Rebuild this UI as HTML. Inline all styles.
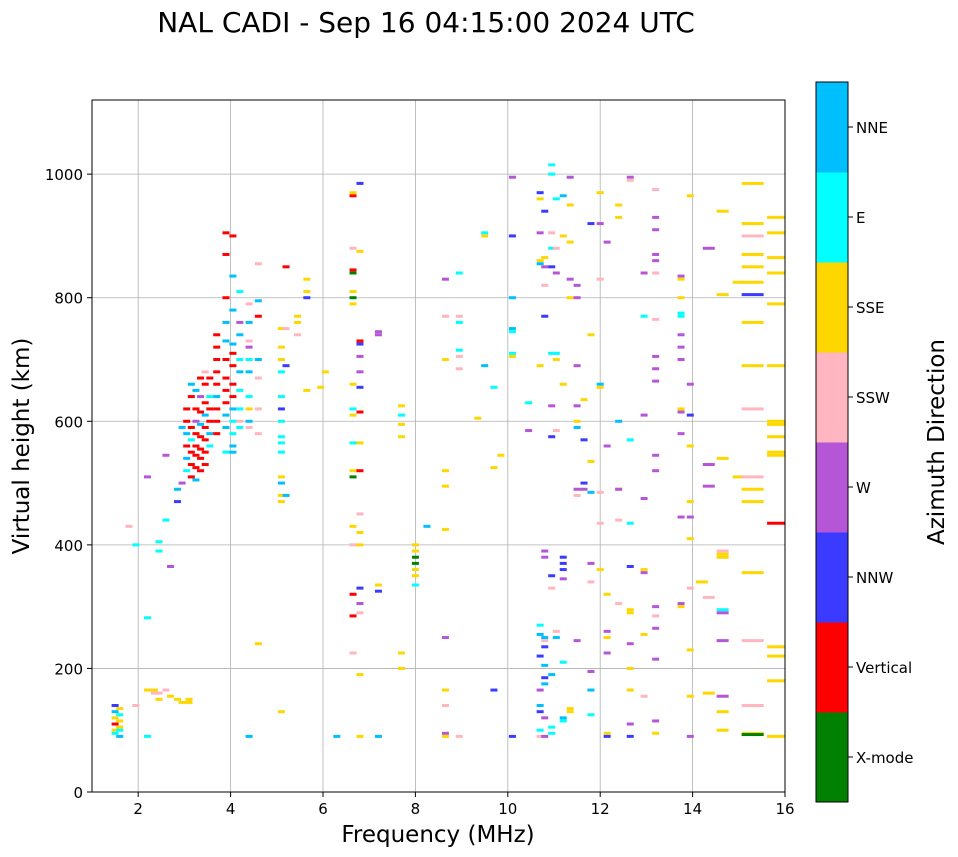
<!DOCTYPE html>
<html><head><meta charset="utf-8"><style>
html,body{margin:0;padding:0;background:#fff;}
svg{display:block;font-family:"DejaVu Sans","Liberation Sans",sans-serif;}
</style></head><body>
<svg id="chart" width="958" height="857" viewBox="0 0 958 857">
<text x="426" y="32" font-size="28" text-anchor="middle">NAL CADI - Sep 16 04:15:00 2024 UTC</text>
<defs><clipPath id="pc"><rect x="92" y="100" width="693" height="692"/></clipPath></defs>
<g id="grid"></g>
<g id="marks" clip-path="url(#pc)"></g>
<rect x="92" y="100" width="693" height="692" fill="none" stroke="#000" stroke-width="1"/>
<g id="axes"></g>
<text x="438" y="842" font-size="23" text-anchor="middle">Frequency (MHz)</text>
<text transform="translate(29,446) rotate(-90)" font-size="23" text-anchor="middle">Virtual height (km)</text>
<g id="cbar"></g>
<text transform="translate(944,442) rotate(-90)" font-size="23" text-anchor="middle">Azimuth Direction</text>
</svg>
<script>
const dirNames = ["X-mode","Vertical","NNW","W","SSW","SSE","E","NNE"];
const dirColors = ["#008000","#ff0000","#3b3bff","#b556d6","#ffb6c1","#ffd700","#00ffff","#00bfff"];
const dirCodes = "XVNWPSEB";
const xTicks = [2,4,6,8,10,12,14,16];
const yTicks = [0,200,400,600,800,1000];
const obs = [
[1.5,"100S 110V 120S 130B 140N 95E"],[1.6,"90B 105S 115S 125E 135S 100E"],[1.8,"430P"],[1.95,"400E 140P"],
[2.2,"165S 282E 510W 90E"],[2.35,"160P 165S"],[2.45,"150S 160P 390E 405E"],[2.6,"165P 440E 545W"],
[2.7,"155S 365W"],[2.85,"150S 470N 490B"],[2.95,"145S 590B 500W"],[3.1,"145S 150S"],
[3.05,"520E 540B 560V 580B 600V 620V"],[3.15,"510V 530V 550V 570E 590V 640V 660B"],
[3.25,"505B 525V 545V 560V 580V 600W 620V 650B"],[3.35,"520V 540V 555V 575V 595B 615V 640W 670V"],
[3.45,"530V 550V 570V 590V 610B 630V 660V 680P"],[3.55,"560E 580B 600V 620V 640E 670V"],
[3.7,"600V 620V 640B 660V 680V 700V 720V 740V 580V"],
[3.9,"590B 610B 630V 650V 670V 700V 730B 760B 800V 870V 905V 550E"],
[4.05,"600E 620B 640V 660V 690V 710V 725B 780B 835B 900V 550B 560B 580E"],
[4.2,"590E 620E 650E 680B 700E 740B 760W 810E 600P"],
[4.4,"600B 620S 640E 680B 700E 720W 730P 760B 790P 590P 90B"],
[4.6,"580P 620P 670P 700B 770V 795B 855P 240S"],
[5.1,"470S 480S 500B 550E 565E 575E 600E 620N 640E 680E 700S 720S 750S 130S 510S"],
[5.2,"690N 750P 850V 480B"],[5.45,"760S 770S 740P"],[5.65,"800N 830S 810S 650S"],[5.95,"655S"],[6.05,"680S"],[6.3,"90B"],
[6.65,"965V 970S 880P 840X 845V 800X 810S 790S 660S 620E 610S 565E 520S 510X 430S 400P 320V 285V 225P"],
[6.8,"985N 875S 725N 730V 705W 680W 655N 615V 565S 520V 450P 420S 400S 330N 305W 290P 190S 90S"],
[7.2,"745W 740W 335S 325N 90B"],[7.7,"625S 610E 595S 575S 225S 200S"],
[8.0,"400S 390S 380X 370X 360S 350S 335E"],[8.25,"430B"],
[8.65,"830W 770P 700S 520S 495S 425S 250W 165S 140P 95W 90S"],
[8.95,"840E 770P 760E 715E 705P 685P 90P"],[9.35,"605S"],[9.5,"905E 900S 690B"],[9.7,"655E 525S 165N"],[9.85,"545S"],
[10.1,"995W 900N 800B 750B 745E 710E 705S 90N"],[10.45,"630E 585W"],
[10.7,"970N 960S 905W 860S 855B 690S 270E 255B 220N 140B 130N 165W 100E 90P"],
[10.8,"940N 865S 850W 820P 770N 390W 380W 250B 245P 235N 205B 185N 175B 90W 120W"],
[10.95,"1015E 1000E 905P 880E 850N 710E 625W 575N 350N 330P 190B 105E 95E"],
[11.05,"960E 880P 710E 700S 840W 585P 260P 250B"],
[11.2,"965B 900S 660S 380N 370N 360N 345W 210E 120B 115E"],
[11.35,"995W 950S 890S 830W 800S 135S 130S"],
[11.5,"820W 800W 690W 625W 600S 590B 480P 490W 245W"],[11.65,"635S 570N 500N 490W"],
[11.8,"920N 740S 535S 485B 370W 340P 195W 165B 125E"],
[12.0,"970S 920W 830P 660B 655S 485P 360S 435P"],
[12.15,"890W 560W 320S 260W 250S 225W 95S 90N"],
[12.4,"950S 930S 600B 490S 490W 440P 305P"],
[12.65,"995W 990P 570E 435E 365N 295S 290S 240W 200S 165S 110W 90N"],
[12.95,"840W 770E 610W 475W 360S 355W 255S 155P"],
[13.2,"975P 930W 910W 870W 860W 840P 765P 705W 685W 665W 545W 520W 300W 285P 265W 215W 115W 95S"],
[13.75,"835W 830S 800S 775E 770E 740W 720W 700W 620S 615W 580W 445W 300S 305W"],
[13.95,"965S 660W 610N 560S 470S 445W 410S 230S 155S 90W 330P"],[14.2,"340S"],
[14.35,"880W 530W 495W 315P 160S"],
[14.65,"940S 805S 540S 390P 385S 380S 295E 290W 245W 155W 130S 100S"],[15.0,"825S 510S"],
[15.3,"985S 920S 900P 870S 850S 825S 805N 760S 690S 620P 510P 490S 470S 355S 245P 140P 95S 93X"],
[15.85,"930S 905S 865S 840S 790S 690S 600S 595S 575S 550S 545S 435V 235S 220S 180S 90S"]
];
const freqs=[], heights=[], dirs=[];
obs.forEach(c=>c[1].split(" ").forEach(t=>{freqs.push(c[0]);heights.push(parseFloat(t));dirs.push(dirCodes.indexOf(t.slice(-1)));}));

const NS="http://www.w3.org/2000/svg";
const X0=92,X1=785,Y0=792,Y1=100,FMIN=1,FMAX=16,HMIN=0,HMAX=1120;
const xs=f=>X0+(f-FMIN)/(FMAX-FMIN)*(X1-X0);
const ys=h=>Y0-(h-HMIN)/(HMAX-HMIN)*(Y0-Y1);
function mk(tag,attrs,parent){const e=document.createElementNS(NS,tag);for(const k in attrs)e.setAttribute(k,attrs[k]);parent.appendChild(e);return e;}
const grid=document.getElementById("grid"),axes=document.getElementById("axes"),marks=document.getElementById("marks"),cbar=document.getElementById("cbar");
xTicks.forEach(t=>{const x=xs(t);
 const g=mk("line",{x1:x,x2:x,y1:Y1,y2:Y0,stroke:"#b0b0b0","stroke-width":0.8},grid);
 
 
 mk("line",{x1:x,x2:x,y1:Y0,y2:Y0+5,stroke:"#000"},axes);
 const tx=mk("text",{x:x,y:Y0+22,"font-size":15,"text-anchor":"middle"},axes);tx.textContent=t;
 
 
});
yTicks.forEach(t=>{const y=ys(t);
 const g=mk("line",{x1:X0,x2:X1,y1:y,y2:y,stroke:"#b0b0b0","stroke-width":0.8},grid);
 
 
 mk("line",{x1:X0-5,x2:X0,y1:y,y2:y,stroke:"#000"},axes);
 const tx=mk("text",{x:X0-9,y:y+6,"font-size":15,"text-anchor":"end"},axes);tx.textContent=t;
 
 
});
for(let i=0;i<freqs.length;i++){
 const w=freqs[i]>15?22:(freqs[i]>14?12:7);
 const r=mk("rect",{x:xs(freqs[i])-w/2,y:ys(heights[i])-1.5,width:w,height:3,fill:dirColors[dirs[i]]},marks);
 
 
}
const CX=816,CW=32,CT=82,CB=802,bh=(CB-CT)/dirNames.length;
dirNames.forEach((n,i)=>{const y=CB-(i+1)*bh;
 const r=mk("rect",{x:CX,y:y,width:CW,height:bh+0.5,fill:dirColors[i]},cbar);
 
 
 mk("line",{x1:CX+CW,x2:CX+CW+5,y1:y+bh/2,y2:y+bh/2,stroke:"#000"},cbar);
 mk("line",{x1:CX+CW-4,x2:CX+CW,y1:y,y2:y,stroke:"#000"},cbar);
 const tx=mk("text",{x:CX+CW+8,y:y+bh/2+6,"font-size":15},cbar);tx.textContent=n;
 
 
});
mk("rect",{x:CX,y:CT,width:CW,height:CB-CT,fill:"none",stroke:"#000","stroke-width":1},cbar);
</script>
</body></html>
